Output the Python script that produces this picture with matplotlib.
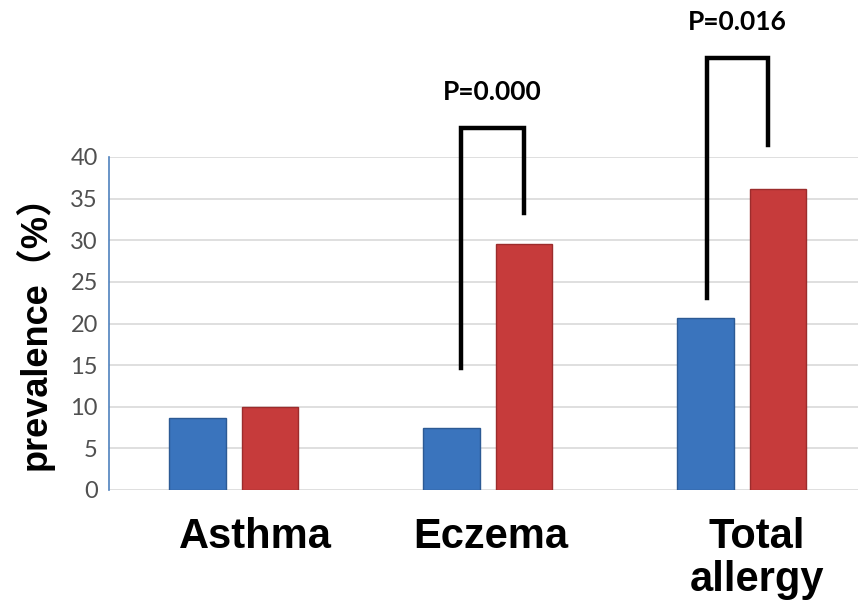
import matplotlib
matplotlib.use("Agg")
import matplotlib.pyplot as plt
import numpy as np

categories = ["Asthma", "Eczema", "Total\nallergy"]
group1 = [8.7, 7.5, 20.7]      # blue
group2 = [10.0, 29.5, 36.2]    # red
yticks = [0, 5, 10, 15, 20, 25, 30, 35, 40]

# significance brackets (Eczema, Total allergy)
bracket_groups = [1, 2]
bracket_left_bottom = [14.7, 23.1]
bracket_right_bottom = [33.3, 41.4]
bracket_top = [43.5, 51.9]
p_labels = ["P=0.000", "P=0.016"]

fig = plt.figure(figsize=(8.58, 6.08), dpi=100)
ax = fig.add_axes([109/858, 118/608, 1 - 109/858, 333/608])

x = np.arange(len(categories))
w = 0.224
off = 0.142
ax.bar(x - off, group1, width=w, color="#3a74bd", edgecolor="#2c5a94", linewidth=1.0, zorder=3)
ax.bar(x + off, group2, width=w, color="#c63b3b", edgecolor="#9c2c2c", linewidth=1.0, zorder=3)

ax.set_xlim(-0.492, 2.457)
ax.set_ylim(0, 40)
ax.set_yticks(yticks)
ax.set_yticklabels([str(t) for t in yticks], fontsize=17, color="#505050", family="Lato")
ax.tick_params(axis="y", length=0, pad=8)
ax.set_xticks([])
ax.yaxis.grid(True, color="#d9d9d9", linewidth=1.2, zorder=0)
ax.set_axisbelow(True)
for s in ["top", "right", "bottom"]:
    ax.spines[s].set_visible(False)
ax.spines["left"].set_color("#4f81bd")
ax.spines["left"].set_linewidth(1.2)

ax.set_ylabel("prevalence（%）", fontsize=26, fontweight="bold",
              family=["Liberation Sans", "Noto Sans CJK SC"], labelpad=12)

# category labels
label_dx = [0.083, 0.012, 0.06]
for i, lab in enumerate(categories):
    ax.text(i + label_dx[i], -3.2, lab, ha="center", va="top", fontsize=30,
            fontweight="bold", family="Liberation Sans",
            linespacing=1.1, clip_on=False)

# brackets
for g, lb, rb, top, p in zip(bracket_groups, bracket_left_bottom, bracket_right_bottom, bracket_top, p_labels):
    xl = g - off + (0.036 if g == 1 else 0.004)
    xr = g + off - (0.0 if g == 1 else 0.04)
    ax.plot([xl, xl, xr, xr], [lb, top, top, rb], color="black", linewidth=3.2,
            solid_joinstyle="miter", clip_on=False, zorder=4)
    ax.text((xl + xr) / 2 + 0.0, top + 2.9, p, ha="center", va="bottom", fontsize=19,
            fontweight="bold", family="Lato", clip_on=False)

fig.savefig("out.png", dpi=100)
